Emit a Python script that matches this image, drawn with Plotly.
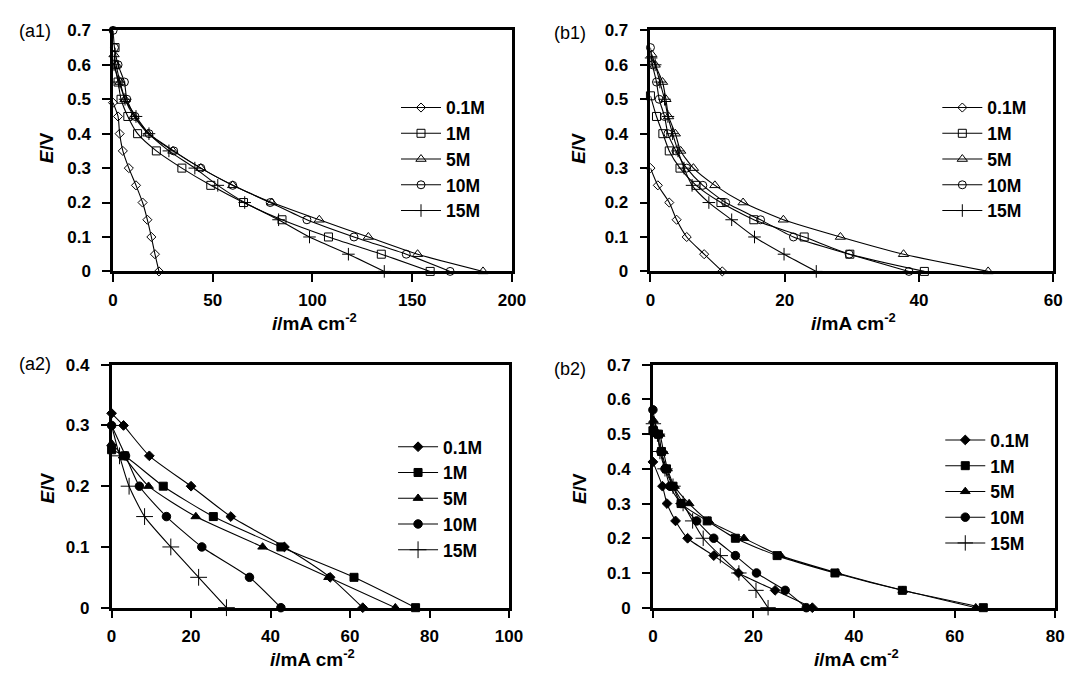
import plotly.graph_objects as go

W, H = 1081, 676
LABELS = ["0.1M", "1M", "5M", "10M", "15M"]

# ---------- (a1) ----------
A1_E_01 = [0.49, 0.45, 0.4, 0.35, 0.3, 0.25, 0.2, 0.15, 0.1, 0.05, 0]
A1_I_01 = [0, 2.5, 3.3, 4.9, 7.9, 11.5, 14.8, 17.2, 19.2, 21, 23]
A1_E_1 = [0.65, 0.6, 0.55, 0.5, 0.45, 0.4, 0.35, 0.3, 0.25, 0.2, 0.15, 0.1, 0.05, 0]
A1_I_1 = [1.0, 0.8, 2.5, 4, 7.4, 12.3, 21.7, 34.5, 49, 65.4, 84.7, 108, 134.5, 159]
A1_E_5 = [0.63, 0.6, 0.55, 0.5, 0.45, 0.4, 0.35, 0.3, 0.25, 0.2, 0.15, 0.1, 0.05, 0]
A1_I_5 = [0.5, 1.5, 3.5, 6, 10.5, 17.5, 30, 44, 60, 79.6, 103.4, 128, 152.7, 185.5]
A1_E_10 = [0.7, 0.65, 0.6, 0.55, 0.5, 0.45, 0.4, 0.35, 0.3, 0.25, 0.2, 0.15, 0.1, 0.05, 0]
A1_I_10 = [0, 0.7, 2.5, 5.7, 6.9, 11, 18, 30.4, 44, 60, 78.8, 97.2, 120.8, 147, 169]
A1_E_15 = [0.6, 0.55, 0.5, 0.45, 0.4, 0.35, 0.3, 0.25, 0.2, 0.15, 0.1, 0.05, 0]
A1_I_15 = [0.5, 3, 6, 11.5, 18, 28, 41, 52.5, 66, 83, 98.5, 118, 136]

# ---------- (b1) ----------
B1_E_01 = [0.3, 0.25, 0.2, 0.15, 0.1, 0.05, 0]
B1_I_01 = [0, 1.1, 2.8, 3.9, 5.4, 8, 10.7]
B1_E_1 = [0.51, 0.45, 0.4, 0.35, 0.3, 0.25, 0.2, 0.15, 0.1, 0.05, 0]
B1_I_1 = [0, 0.9, 1.85, 2.8, 4.4, 6.8, 10.5, 15.4, 22.9, 29.7, 40.8]
B1_E_5 = [0.63, 0.6, 0.55, 0.5, 0.45, 0.4, 0.35, 0.3, 0.25, 0.2, 0.15, 0.1, 0.05, 0]
B1_I_5 = [0.2, 0.7, 1.8, 2.3, 2.7, 3.7, 4.5, 6.4, 9.6, 13.8, 19.8, 28.3, 37.7, 50.3]
B1_E_10 = [0.65, 0.6, 0.55, 0.5, 0.45, 0.4, 0.35, 0.3, 0.25, 0.2, 0.15, 0.1, 0.05, 0]
B1_I_10 = [0, 0.3, 0.9, 1.3, 2.1, 2.6, 3.8, 5.4, 7.8, 11.2, 16.4, 21.3, 29.6, 38.5]
B1_E_15 = [0.62, 0.6, 0.55, 0.5, 0.45, 0.4, 0.35, 0.3, 0.25, 0.2, 0.15, 0.1, 0.05, 0]
B1_I_15 = [0.1, 0.7, 1.4, 2.1, 2.6, 3.3, 4.1, 5.0, 6.2, 8.7, 12.1, 15.5, 19.9, 24.7]

# ---------- (a2) ----------
A2_E_01 = [0.32, 0.3, 0.25, 0.2, 0.15, 0.1, 0.05, 0]
A2_I_01 = [0, 3, 9.5, 20, 30, 43.5, 55, 63.2]
A2_E_1 = [0.26, 0.25, 0.2, 0.15, 0.1, 0.05, 0]
A2_I_1 = [0, 3.3, 13, 25.6, 42.6, 61, 76.5]
A2_E_5 = [0.27, 0.25, 0.2, 0.15, 0.1, 0.05, 0]
A2_I_5 = [0, 2.9, 9.3, 21.2, 38, 54.6, 71.4]
A2_E_10 = [0.3, 0.25, 0.2, 0.15, 0.1, 0.05, 0]
A2_I_10 = [0, 3.5, 7, 13.8, 22.7, 34.7, 42.6]
A2_E_15 = [0.3, 0.25, 0.2, 0.15, 0.1, 0.05, 0]
A2_I_15 = [0, 2, 4.4, 8.3, 14.9, 21.9, 28.9]

# ---------- (b2) ----------
B2_E_01 = [0.42, 0.35, 0.3, 0.25, 0.2, 0.15, 0.1, 0.05, 0]
B2_I_01 = [0, 1.9, 2.8, 4.5, 6.9, 12.1, 17, 24.3, 31.7]
B2_E_1 = [0.51, 0.5, 0.45, 0.4, 0.35, 0.3, 0.25, 0.2, 0.15, 0.1, 0.05, 0]
B2_I_1 = [0, 1.1, 1.7, 2.7, 4, 5.6, 10.8, 16.4, 24.7, 36.2, 49.6, 65.7]
B2_E_5 = [0.54, 0.5, 0.45, 0.4, 0.35, 0.3, 0.25, 0.2, 0.15, 0.1, 0.05, 0]
B2_I_5 = [0.1, 1.4, 2.1, 2.9, 4.3, 7.2, 11.1, 18.1, 25.4, 36.7, 49.7, 64.2]
B2_E_10 = [0.57, 0.5, 0.45, 0.4, 0.35, 0.3, 0.25, 0.2, 0.15, 0.1, 0.05, 0]
B2_I_10 = [0, 0.8, 1.6, 2.4, 3.4, 5.6, 8.7, 12.1, 16.4, 20.6, 26.3, 30.5]
B2_E_15 = [0.53, 0.5, 0.45, 0.4, 0.35, 0.3, 0.25, 0.2, 0.15, 0.1, 0.05, 0]
B2_I_15 = [0.1, 0.9, 1.4, 2.4, 4, 6, 7.9, 10, 13.4, 17.1, 20.5, 22.9]

OPEN_SYMBOLS = ["diamond-open", "square-open", "triangle-up-open", "circle-open", "cross-thin-open"]
FILL_SYMBOLS = ["diamond", "square", "triangle-up", "circle", "cross-thin-open"]

FONT = "Liberation Sans, Arial, sans-serif"

XTITLE = ('<span style="font-style:italic;font-size:19px">i</span>/mA cm'
          '<sup><span style="font-size:13px">-2</span></sup>')
YTITLE = '<span style="font-style:italic;font-size:19px">E</span>/V'


def px_x(p):
    return p / W


def px_y(p):
    return 1 - p / H


# panel geometry in pixels: (left, right, top, bottom)
PANELS = [
    dict(name="a1", xa="x", ya="y", box=(110, 516, 22, 270), xr=[0, 200], xd=50, yr=[0, 0.7],
         series=[(A1_I_01, A1_E_01), (A1_I_1, A1_E_1), (A1_I_5, A1_E_5), (A1_I_10, A1_E_10), (A1_I_15, A1_E_15)],
         symbols=OPEN_SYMBOLS, sizes=[7, 8, 9, 8, 9], legend="legend", leg=(398, 83),
         ytitle=(43, 143), lab=(12, 23)),
    dict(name="b1", xa="x2", ya="y2", box=(657, 1067, 22, 270), xr=[0, 60], xd=20, yr=[0, 0.7],
         series=[(B1_I_01, B1_E_01), (B1_I_1, B1_E_1), (B1_I_5, B1_E_5), (B1_I_10, B1_E_10), (B1_I_15, B1_E_15)],
         symbols=OPEN_SYMBOLS, sizes=[7, 8, 9, 8, 9], legend="legend2", leg=(949, 83),
         ytitle=(584, 143), lab=(557, 25)),
    dict(name="a2", xa="x3", ya="y3", box=(108.5, 513, 366, 616), xr=[0, 100], xd=20, yr=[0, 0.4],
         series=[(A2_I_01, A2_E_01), (A2_I_1, A2_E_1), (A2_I_5, A2_E_5), (A2_I_10, A2_E_10), (A2_I_15, A2_E_15)],
         symbols=FILL_SYMBOLS, sizes=[7.5, 8, 8.5, 8.5, 12], legend="legend3", leg=(395, 432),
         ytitle=(43, 493), lab=(12, 365)),
    dict(name="b2", xa="x4", ya="y4", box=(659.5, 1069, 366, 616), xr=[0, 80], xd=20, yr=[0, 0.7],
         series=[(B2_I_01, B2_E_01), (B2_I_1, B2_E_1), (B2_I_5, B2_E_5), (B2_I_10, B2_E_10), (B2_I_15, B2_E_15)],
         symbols=FILL_SYMBOLS, sizes=[7.5, 8, 8.5, 8.5, 11], legend="legend4", leg=(952, 425),
         ytitle=(584, 493), lab=(557, 370)),
]

fig = go.Figure()
layout = dict(
    width=W, height=H, margin=dict(l=0, r=0, t=0, b=0),
    paper_bgcolor="white", plot_bgcolor="white",
    font=dict(family=FONT, color="black", size=17, weight="bold"),
    annotations=[],
)

for p in PANELS:
    l, r, t, b = p["box"]
    for k, (xs, ys) in enumerate(p["series"]):
        fig.add_trace(go.Scatter(
            x=xs, y=ys, mode="lines+markers",
            name=LABELS[k],
            xaxis=p["xa"], yaxis=p["ya"], legend=p["legend"],
            line=dict(color="black", width=1.1, shape="spline", smoothing=0.6),
            marker=dict(symbol=p["symbols"][k], size=p["sizes"][k], color="black",
                        line=dict(color="black", width=1)),
            cliponaxis=False,
        ))
    xkey = "xaxis" + p["xa"][1:]
    ykey = "yaxis" + p["ya"][1:]
    common = dict(showline=True, linewidth=2.5, linecolor="black", mirror=True,
                  ticks="outside", ticklen=8, tickwidth=2, tickcolor="black",
                  showgrid=False, zeroline=False,
                  tickfont=dict(family=FONT, size=17, color="black", weight="bold"))
    layout[xkey] = dict(domain=[px_x(l), px_x(r)], range=p["xr"], dtick=p["xd"], tick0=0,
                        anchor=p["ya"], ticklabelstandoff=3, **common)
    layout[ykey] = dict(domain=[px_y(b), px_y(t)], range=p["yr"], dtick=0.1, tick0=0,
                        anchor=p["xa"], ticklabelstandoff=8, **common)
    lx, ly = p["leg"]
    layout[p["legend"]] = dict(x=px_x(lx), y=px_y(ly), xanchor="left", yanchor="top",
                               bgcolor="rgba(0,0,0,0)", itemwidth=40,
                               font=dict(family=FONT, size=17.5, color="black", weight="bold"),
                               tracegroupgap=0)
    cx = (l + r) / 2
    # x axis title
    layout["annotations"].append(dict(
        text=XTITLE, x=px_x(cx + 2), y=px_y(b + 52),
        xref="paper", yref="paper", showarrow=False, xanchor="center", yanchor="middle",
        font=dict(family=FONT, size=19, color="black", weight="bold")))
    # y axis title
    tx, ty = p["ytitle"]
    layout["annotations"].append(dict(
        text=YTITLE, x=px_x(tx), y=px_y(ty),
        xref="paper", yref="paper", showarrow=False, xanchor="center", yanchor="middle",
        textangle=-90, font=dict(family=FONT, size=19, color="black", weight="bold")))
    # panel label
    lbx, lby = p["lab"]
    layout["annotations"].append(dict(
        text="(%s)" % p["name"], x=px_x(lbx), y=px_y(lby),
        xref="paper", yref="paper", showarrow=False, xanchor="left", yanchor="middle",
        font=dict(family=FONT, size=18, color="black", weight="normal")))

fig.update_layout(**layout)
fig.write_html("out.html", config={"displayModeBar": False},
               post_script="document.body.style.margin='0';")
